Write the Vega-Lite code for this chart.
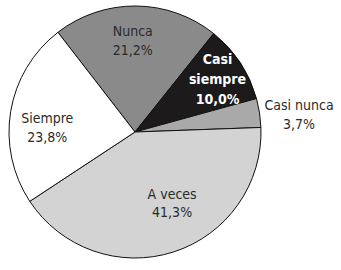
{
  "$schema": "https://vega.github.io/schema/vega-lite/v6.json",
  "width": 270,
  "height": 264,
  "autosize": "none",
  "padding": {"left": 0, "top": 0, "right": 71, "bottom": 6},
  "background": "white",
  "config": {"view": {"stroke": null}},
  "data": {
    "values": [
      {"cat": "Nunca", "value": 21.2, "ord": 1, "label": "Nunca\n21,2%"},
      {"cat": "Casi siempre", "value": 10.0, "ord": 2, "label": "Casi\nsiempre\n10,0%"},
      {"cat": "Casi nunca", "value": 3.7, "ord": 3, "label": "Casi nunca\n3,7%"},
      {"cat": "A veces", "value": 41.3, "ord": 4, "label": "A veces\n41,3%"},
      {"cat": "Siempre", "value": 23.8, "ord": 5, "label": "Siempre\n23,8%"}
    ]
  },
  "encoding": {
    "theta": {"field": "value", "type": "quantitative", "stack": true, "scale": {"range": [-0.658, 5.625]}},
    "order": {"field": "ord", "type": "quantitative"}
  },
  "layer": [
    {
      "mark": {"type": "arc", "outerRadius": 126, "stroke": "#111111", "strokeWidth": 1},
      "encoding": {
        "color": {
          "field": "cat", "type": "nominal", "legend": null,
          "scale": {
            "domain": ["Nunca", "Casi siempre", "Casi nunca", "A veces", "Siempre"],
            "range": ["#8a8a8a", "#1c1a1b", "#a9a9a9", "#d3d3d3", "#ffffff"]
          }
        }
      }
    },
    {
      "mark": {"type": "text", "radius": 100, "dx": -3, "lineBreak": "\n", "lineHeight": 18.5, "font": "Liberation Sans Narrow, DejaVu Sans Condensed", "fontSize": 14, "fill": "#2a2a2a", "align": "center", "baseline": "middle"},
      "encoding": {
        "text": {"field": "label"},
        "opacity": {"condition": {"test": "datum.cat === 'Nunca'", "value": 1}, "value": 0}
      }
    },
    {
      "mark": {"type": "text", "radius": 100, "dx": -1, "dy": -17, "lineBreak": "\n", "lineHeight": 20, "font": "Liberation Sans Narrow, DejaVu Sans Condensed", "fontSize": 14, "fontWeight": "bold", "fill": "#ffffff", "align": "center", "baseline": "middle"},
      "encoding": {
        "text": {"field": "label"},
        "opacity": {"condition": {"test": "datum.cat === 'Casi siempre'", "value": 1}, "value": 0}
      }
    },
    {
      "mark": {"type": "text", "radius": 166, "dy": -1, "lineBreak": "\n", "lineHeight": 19.5, "font": "Liberation Sans Narrow, DejaVu Sans Condensed", "fontSize": 14, "fill": "#2a2a2a", "align": "center", "baseline": "middle"},
      "encoding": {
        "text": {"field": "label"},
        "opacity": {"condition": {"test": "datum.cat === 'Casi nunca'", "value": 1}, "value": 0}
      }
    },
    {
      "mark": {"type": "text", "radius": 66, "dx": 17, "lineBreak": "\n", "lineHeight": 18.5, "font": "Liberation Sans Narrow, DejaVu Sans Condensed", "fontSize": 14, "fill": "#2a2a2a", "align": "center", "baseline": "middle"},
      "encoding": {
        "text": {"field": "label"},
        "opacity": {"condition": {"test": "datum.cat === 'A veces'", "value": 1}, "value": 0}
      }
    },
    {
      "mark": {"type": "text", "radius": 89, "dy": 2, "lineBreak": "\n", "lineHeight": 18.5, "font": "Liberation Sans Narrow, DejaVu Sans Condensed", "fontSize": 14, "fill": "#2a2a2a", "align": "center", "baseline": "middle"},
      "encoding": {
        "text": {"field": "label"},
        "opacity": {"condition": {"test": "datum.cat === 'Siempre'", "value": 1}, "value": 0}
      }
    }
  ]
}
